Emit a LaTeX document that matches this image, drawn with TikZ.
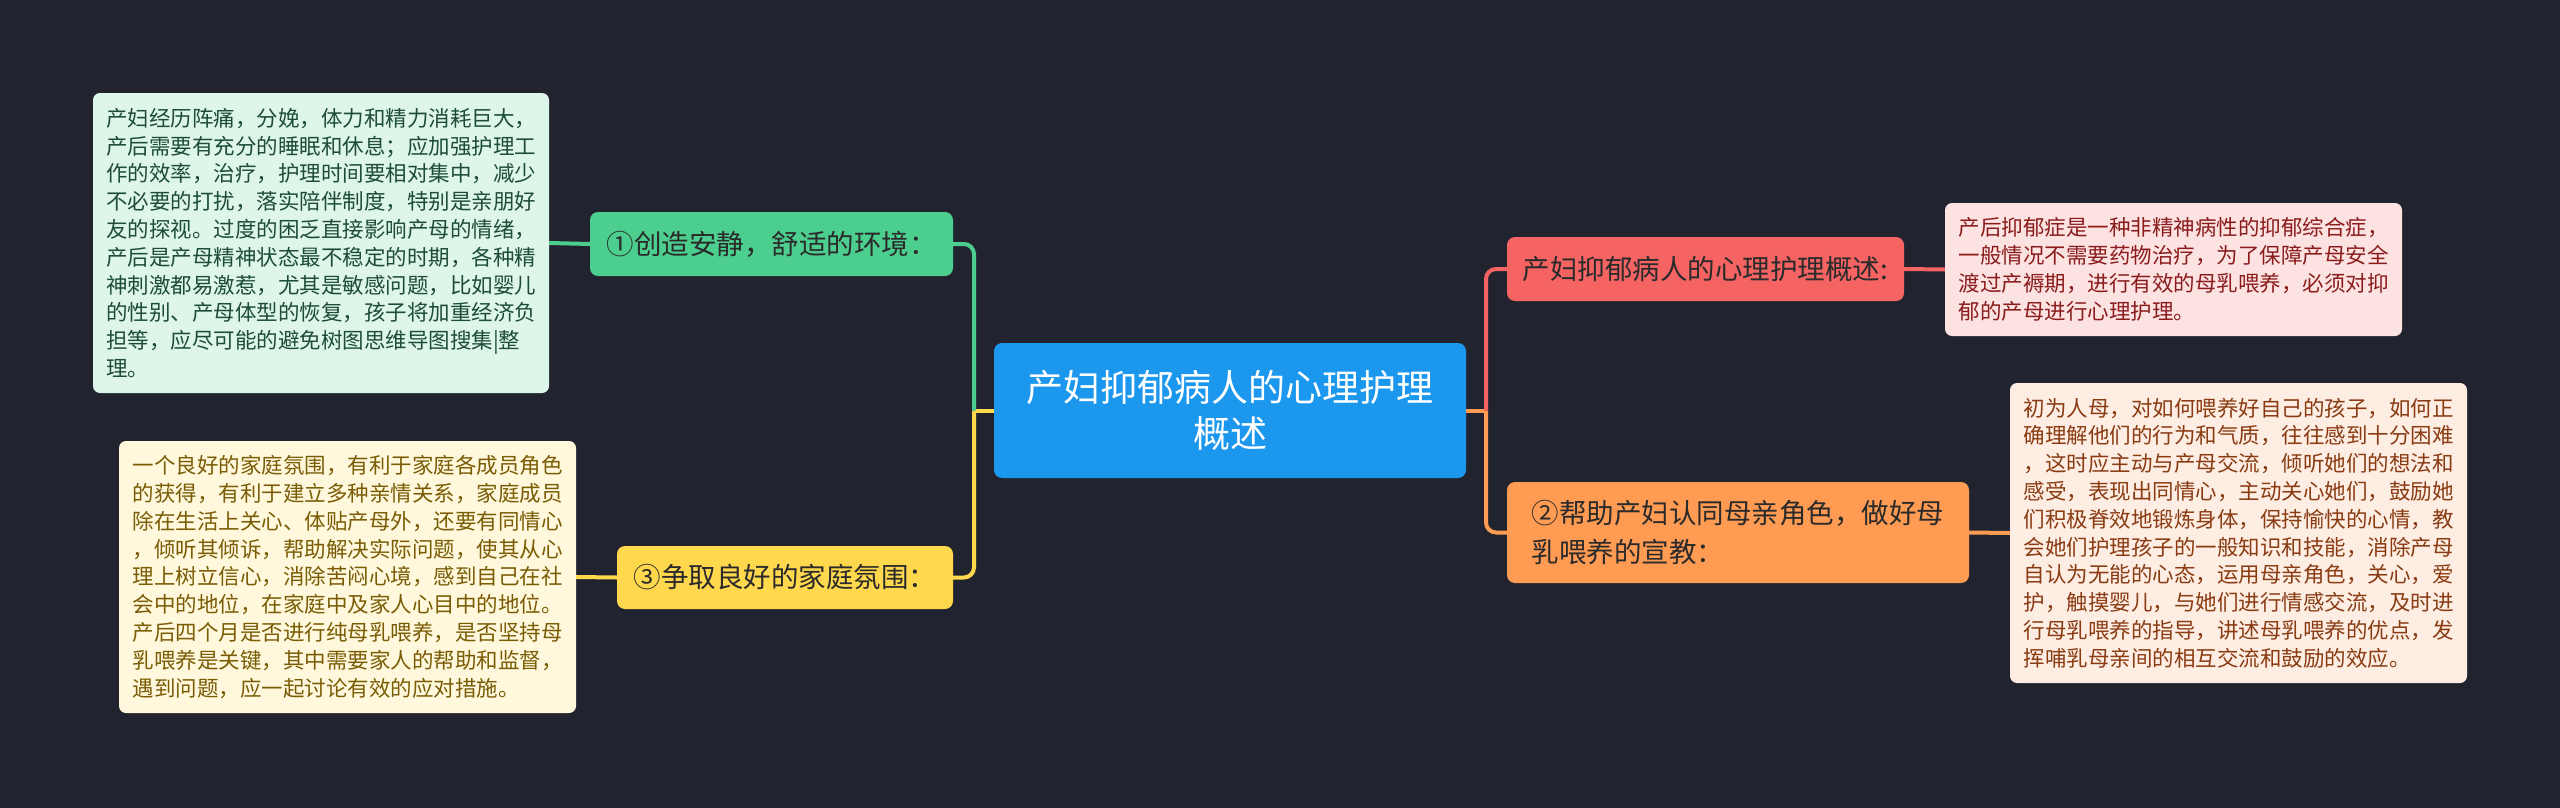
\documentclass[tikz,border=0pt]{standalone}
\usepackage{fontspec}
\setmainfont{Noto Sans CJK SC}
\definecolor{bg}{HTML}{21242F}
\definecolor{cblue}{HTML}{1B97EE}
\definecolor{cgreen}{HTML}{4CCF8E}
\definecolor{cyellow}{HTML}{FFD84D}
\definecolor{cred}{HTML}{F56363}
\definecolor{corange}{HTML}{FF9B52}
\definecolor{fgreen}{HTML}{DEF5EA}
\definecolor{fyellow}{HTML}{FFF8DC}
\definecolor{fred}{HTML}{FDE2E2}
\definecolor{forange}{HTML}{FDEDE3}
\definecolor{tgreen}{HTML}{1D4D34}
\definecolor{tyellow}{HTML}{7A5C05}
\definecolor{tred}{HTML}{8B1C1C}
\definecolor{torange}{HTML}{8A3B12}
\definecolor{tdark}{HTML}{2A2A2A}
\begin{document}
\begin{tikzpicture}[x=1pt,y=-1pt,
  txtbox/.style={rounded corners=7pt, inner sep=0pt, align=left, anchor=center,
    font=\fontsize{21.5}{27.8}\selectfont},
  branch/.style={rounded corners=8pt, inner sep=0pt, anchor=center, text=tdark,
    font=\fontsize{27.5}{38.5}\selectfont},
  conn/.style={line width=4pt}
]
\useasboundingbox[fill=bg] (0,0) rectangle (2560,808);

% center
\node[rounded corners=8pt, fill=cblue, text=white, align=center, inner sep=0pt,
  minimum width=472, minimum height=135, font=\fontsize{37}{46}\selectfont]
  (root) at (1230,410.5) {产妇抑郁病人的心理护理\\概述};

% branch nodes
\node[branch, fill=cgreen, minimum width=363, minimum height=64] (g) at (771.5,244)
  {①创造安静，舒适的环境：};
\node[branch, fill=cyellow, minimum width=336, minimum height=63] (y) at (785,577.5)
  {③争取良好的家庭氛围：};
\node[branch, fill=cred, minimum width=397, minimum height=64] (r) at (1705.5,269)
  {产妇抑郁病人的心理护理概述:};
\node[branch, fill=corange, minimum width=462, minimum height=101, align=left] (o) at (1738,532.5)
  {②帮助产妇认同母亲角色，做好母\\乳喂养的宣教：};

% text boxes
\node[txtbox, fill=fgreen, text=tgreen, minimum width=456, minimum height=300] (gb) at (321,243)
  {产妇经历阵痛，分娩，体力和精力消耗巨大，\\
   产后需要有充分的睡眠和休息；应加强护理工\\
   作的效率，治疗，护理时间要相对集中，减少\\
   不必要的打扰，落实陪伴制度，特别是亲朋好\\
   友的探视。过度的困乏直接影响产母的情绪，\\
   产后是产母精神状态最不稳定的时期，各种精\\
   神刺激都易激惹，尤其是敏感问题，比如婴儿\\
   的性别、产母体型的恢复，孩子将加重经济负\\
   担等，应尽可能的避免树图思维导图搜集|整\\
   理。};
\node[txtbox, fill=fyellow, text=tyellow, minimum width=457, minimum height=272] (yb) at (347.5,577)
  {一个良好的家庭氛围，有利于家庭各成员角色\\
   的获得，有利于建立多种亲情关系，家庭成员\\
   除在生活上关心、体贴产母外，还要有同情心\\
   ，倾听其倾诉，帮助解决实际问题，使其从心\\
   理上树立信心，消除苦闷心境，感到自己在社\\
   会中的地位，在家庭中及家人心目中的地位。\\
   产后四个月是否进行纯母乳喂养，是否坚持母\\
   乳喂养是关键，其中需要家人的帮助和监督，\\
   遇到问题，应一起讨论有效的应对措施。};
\node[txtbox, fill=fred, text=tred, minimum width=457, minimum height=133] (rb) at (2173.5,269.5)
  {产后抑郁症是一种非精神病性的抑郁综合症，\\
   一般情况不需要药物治疗，为了保障产母安全\\
   渡过产褥期，进行有效的母乳喂养，必须对抑\\
   郁的产母进行心理护理。};
\node[txtbox, fill=forange, text=torange, minimum width=457, minimum height=300] (ob) at (2238.5,533)
  {初为人母，对如何喂养好自己的孩子，如何正\\
   确理解他们的行为和气质，往往感到十分困难\\
   ，这时应主动与产母交流，倾听她们的想法和\\
   感受，表现出同情心，主动关心她们，鼓励她\\
   们积极脊效地锻炼身体，保持愉快的心情，教\\
   会她们护理孩子的一般知识和技能，消除产母\\
   自认为无能的心态，运用母亲角色，关心，爱\\
   护，触摸婴儿，与她们进行情感交流，及时进\\
   行母乳喂养的指导，讲述母乳喂养的优点，发\\
   挥哺乳母亲间的相互交流和鼓励的效应。};

% junctions
\coordinate (jl) at (974,410.5);
\coordinate (jr) at (1486,410.5);

% connectors left
\draw[conn, cyellow] (root.west) -- (jl);
\draw[conn, cyellow, rounded corners=10pt] (jl) |- (y.east);
\draw[conn, cgreen, rounded corners=10pt] (jl) |- (g.east);
\draw[conn, cgreen] (g.west) -- (gb.east);
\draw[conn, cyellow] (y.west) -- (yb.east);

% connectors right
\draw[conn, corange] (root.east) -- (jr);
\draw[conn, corange, rounded corners=10pt] (jr) |- (o.west);
\draw[conn, cred, rounded corners=10pt] (jr) |- (r.west);
\draw[conn, cred] (r.east) -- (rb.west);
\draw[conn, corange] (o.east) -- (ob.west);
\end{tikzpicture}
\end{document}
